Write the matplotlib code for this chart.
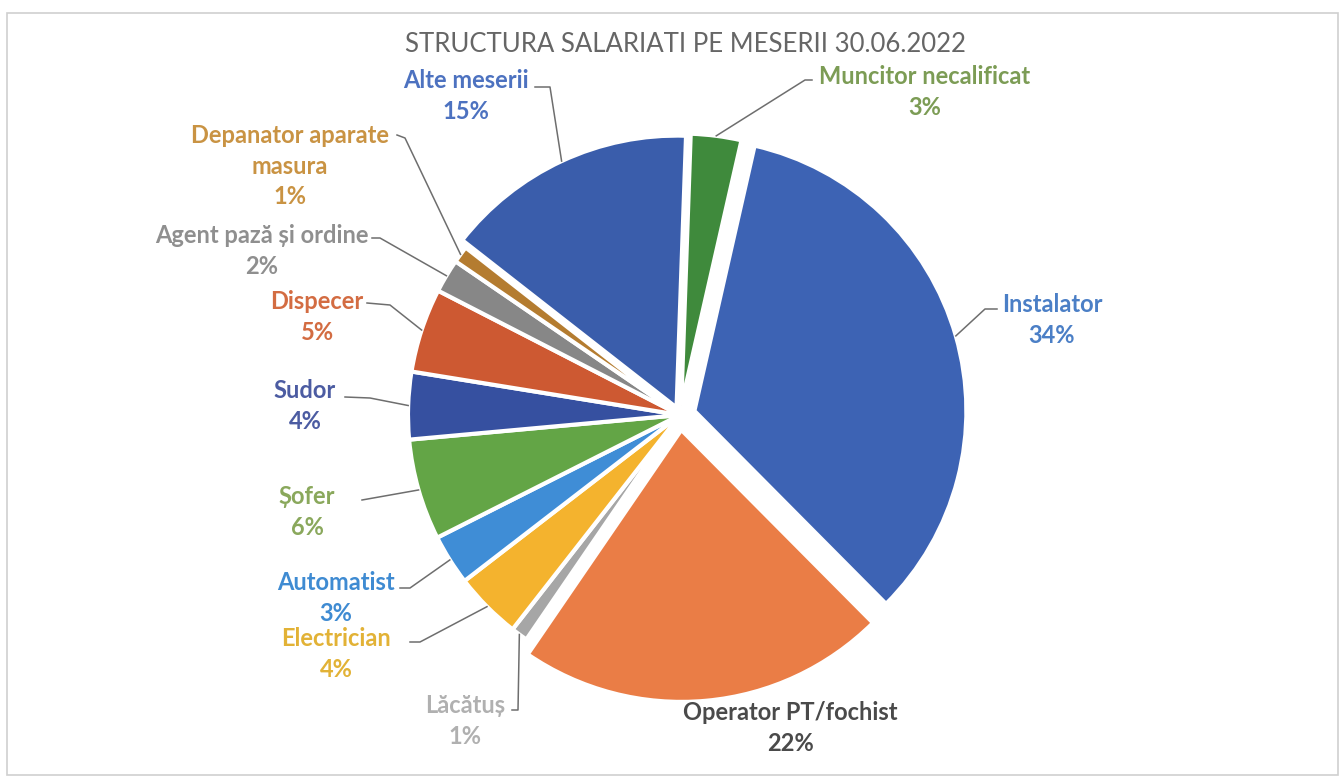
import numpy as np
import matplotlib.pyplot as plt
from matplotlib.patches import Rectangle

# data
names = ['Muncitor necalificat', 'Instalator', 'Operator PT/fochist', 'Lăcătuș',
         'Electrician', 'Automatist', 'Șofer', 'Sudor', 'Dispecer',
         'Agent pază și ordine', 'Depanator aparate\nmasura', 'Alte meserii']
values = [3, 34, 22, 1, 4, 3, 6, 4, 5, 2, 1, 15]
title = 'STRUCTURA SALARIATI PE MESERII 30.06.2022'

# styles
slice_colors = ['#3f8a3c', '#3d63b4', '#ea7d46', '#a6a6a6', '#f4b32e', '#3f8dd6',
                '#63a546', '#3650a0', '#cd5932', '#878787', '#b47c30', '#3a5dab']
text_colors = ['#7c9c55', '#4b7fc6', '#4a4a4a', '#b0b0b0', '#e2b236', '#3f8bd2',
               '#8aa85c', '#4c5ca2', '#d36c42', '#8f8f8f', '#c99343', '#4d72c0']
explode = [0.035, 0.055, 0.055, 0, 0, 0, 0, 0, 0, 0, 0, 0.03]

W, H = 1344, 779
cx, cy, R = 680, 415, 272
start = 88

# label layout in pixel coords (y down): text centre, then leader points near text
label_pos = [(925, 92), (1052, 320), (790, 728), (465, 721), (336, 654), (336, 598),
             (307, 512), (305, 406), (317, 317), (262, 251), (290, 166), (466, 96)]
leader_pts = [[(812, 80), (805, 80)], [(997, 309), (985, 309)], None,
              [(512, 710), (518, 710)], [(410, 642), (420, 642)],
              [(400, 588), (410, 588)], [(362, 500)], [(345, 397), (370, 398)],
              [(367, 303), (390, 305)], [(372, 238), (380, 238)],
              [(397, 135), (405, 138)], [(535, 87), (550, 87)]]

plt.rcParams['font.family'] = ['Lato', 'DejaVu Sans']

fig = plt.figure(figsize=(W / 100, H / 100), dpi=100)
ax = fig.add_axes([0, 0, 1, 1])

def py(y):
    return H - y

ax.add_patch(Rectangle((7, py(775)), 1331, 762, fill=False, ec='#cfcfcf', lw=1.2))

ax.pie(values, colors=slice_colors, explode=[e * R for e in explode],
       startangle=start, counterclock=False, center=(cx, py(cy)), radius=R,
       wedgeprops=dict(edgecolor='white', linewidth=3), frame=True)
ax.set_xlim(0, W)
ax.set_ylim(0, H)
ax.set_aspect('equal')
ax.axis('off')

ax.text(685, py(44), title, ha='center', va='center', fontsize=18.5, color='#666666')

cum = np.cumsum([0] + values[:-1])
total = sum(values)
for i, name in enumerate(names):
    pct = f'{values[i] / total * 100:.0f}%'
    tx, ty = label_pos[i]
    ax.text(tx, py(ty), name + '\n' + pct, ha='center', va='center', fontsize=17,
            fontweight='bold', color=text_colors[i], linespacing=1.4)
    if leader_pts[i] is None:
        continue
    ang = np.deg2rad(start - 360 * (cum[i] + values[i] / 2) / total)
    d = explode[i] * R
    ax_ = cx + (R + d) * np.cos(ang)
    ay_ = py(cy) + (R + d) * np.sin(ang)
    pts = [(x, py(y)) for x, y in leader_pts[i]] + [(ax_, ay_)]
    xs, ys = zip(*pts)
    ax.plot(xs, ys, color='#6e6e6e', lw=1.1)

fig.savefig('out.png', dpi=100)
